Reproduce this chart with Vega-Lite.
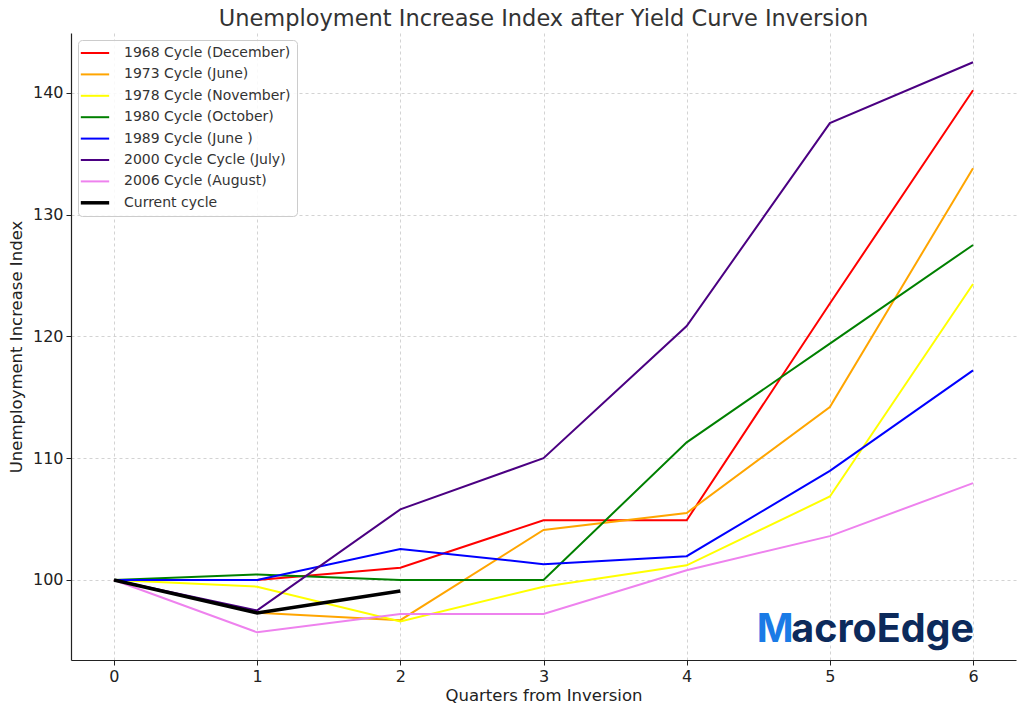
{
  "$schema": "https://vega.github.io/schema/vega-lite/v6.json",
  "width": 945,
  "height": 627,
  "autosize": {"type": "none"},
  "padding": {"left": 71, "top": 33, "right": 13, "bottom": 50},
  "background": "white",
  "title": {"text": "Unemployment Increase Index after Yield Curve Inversion", "font": "DejaVu Sans", "fontSize": 22.5, "fontWeight": "normal", "color": "#333333", "offset": 3, "anchor": "middle"},
  "config": {
    "view": {"stroke": null},
    "font": "DejaVu Sans",
    "axis": {"labelFont": "DejaVu Sans", "titleFont": "DejaVu Sans", "labelFontSize": 16, "titleFontSize": 16.5, "titleFontWeight": "normal", "labelColor": "#222222", "titleColor": "#222222", "domainColor": "#222222", "tickColor": "#222222", "tickSize": 5, "gridColor": "#c8c8c8", "gridDash": [3, 3], "gridWidth": 0.8, "domainWidth": 1.2}
  },
  "datasets": {
    "cycles": [
      {"series": "1968 Cycle (December)", "q": 0, "v": 100},
      {"series": "1968 Cycle (December)", "q": 1, "v": 100},
      {"series": "1968 Cycle (December)", "q": 2, "v": 101.0},
      {"series": "1968 Cycle (December)", "q": 3, "v": 104.9},
      {"series": "1968 Cycle (December)", "q": 4, "v": 104.9},
      {"series": "1968 Cycle (December)", "q": 5, "v": 122.7},
      {"series": "1968 Cycle (December)", "q": 6, "v": 140.2},
      {"series": "1973 Cycle (June)", "q": 0, "v": 100},
      {"series": "1973 Cycle (June)", "q": 1, "v": 97.3},
      {"series": "1973 Cycle (June)", "q": 2, "v": 96.7},
      {"series": "1973 Cycle (June)", "q": 3, "v": 104.1},
      {"series": "1973 Cycle (June)", "q": 4, "v": 105.5},
      {"series": "1973 Cycle (June)", "q": 5, "v": 114.2},
      {"series": "1973 Cycle (June)", "q": 6, "v": 133.8},
      {"series": "1978 Cycle (November)", "q": 0, "v": 100},
      {"series": "1978 Cycle (November)", "q": 1, "v": 99.45},
      {"series": "1978 Cycle (November)", "q": 2, "v": 96.6},
      {"series": "1978 Cycle (November)", "q": 3, "v": 99.45},
      {"series": "1978 Cycle (November)", "q": 4, "v": 101.2},
      {"series": "1978 Cycle (November)", "q": 5, "v": 106.85},
      {"series": "1978 Cycle (November)", "q": 6, "v": 124.3},
      {"series": "1980 Cycle (October)", "q": 0, "v": 100},
      {"series": "1980 Cycle (October)", "q": 1, "v": 100.45},
      {"series": "1980 Cycle (October)", "q": 2, "v": 100},
      {"series": "1980 Cycle (October)", "q": 3, "v": 100},
      {"series": "1980 Cycle (October)", "q": 4, "v": 111.3},
      {"series": "1980 Cycle (October)", "q": 5, "v": 119.4},
      {"series": "1980 Cycle (October)", "q": 6, "v": 127.5},
      {"series": "1989 Cycle (June )", "q": 0, "v": 100},
      {"series": "1989 Cycle (June )", "q": 1, "v": 100},
      {"series": "1989 Cycle (June )", "q": 2, "v": 102.55},
      {"series": "1989 Cycle (June )", "q": 3, "v": 101.3},
      {"series": "1989 Cycle (June )", "q": 4, "v": 101.95},
      {"series": "1989 Cycle (June )", "q": 5, "v": 108.95},
      {"series": "1989 Cycle (June )", "q": 6, "v": 117.2},
      {"series": "2000 Cycle Cycle (July)", "q": 0, "v": 100},
      {"series": "2000 Cycle Cycle (July)", "q": 1, "v": 97.5},
      {"series": "2000 Cycle Cycle (July)", "q": 2, "v": 105.8},
      {"series": "2000 Cycle Cycle (July)", "q": 3, "v": 110.0},
      {"series": "2000 Cycle Cycle (July)", "q": 4, "v": 120.85},
      {"series": "2000 Cycle Cycle (July)", "q": 5, "v": 137.5},
      {"series": "2000 Cycle Cycle (July)", "q": 6, "v": 142.5},
      {"series": "2006 Cycle (August)", "q": 0, "v": 100},
      {"series": "2006 Cycle (August)", "q": 1, "v": 95.7},
      {"series": "2006 Cycle (August)", "q": 2, "v": 97.2},
      {"series": "2006 Cycle (August)", "q": 3, "v": 97.2},
      {"series": "2006 Cycle (August)", "q": 4, "v": 100.8},
      {"series": "2006 Cycle (August)", "q": 5, "v": 103.6},
      {"series": "2006 Cycle (August)", "q": 6, "v": 107.95},
      {"series": "Current cycle", "q": 0, "v": 100},
      {"series": "Current cycle", "q": 1, "v": 97.3},
      {"series": "Current cycle", "q": 2, "v": 99.1}
    ]
  },
  "layer": [
    {
      "data": {"name": "cycles"},
      "mark": {"type": "line", "strokeCap": "butt", "strokeJoin": "miter"},
      "encoding": {
        "x": {"field": "q", "type": "quantitative", "title": "Quarters from Inversion", "scale": {"domain": [-0.3, 6.3], "nice": false, "zero": false}, "axis": {"values": [0, 1, 2, 3, 4, 5, 6], "format": "d", "labelPadding": 3, "titlePadding": 3}},
        "y": {"field": "v", "type": "quantitative", "title": "Unemployment Increase Index", "scale": {"domain": [93.43, 144.9], "nice": false, "zero": false}, "axis": {"values": [100, 110, 120, 130, 140], "labelPadding": 3, "titlePadding": 8}},
        "color": {"field": "series", "type": "nominal", "title": null,
          "scale": {"domain": ["1968 Cycle (December)", "1973 Cycle (June)", "1978 Cycle (November)", "1980 Cycle (October)", "1989 Cycle (June )", "2000 Cycle Cycle (July)", "2006 Cycle (August)", "Current cycle"],
                    "range": ["#ff0000", "#ffa500", "#ffff00", "#008000", "#0000ff", "#4b0082", "#ee82ee", "#000000"]},
          "legend": {"orient": "none", "legendX": 7, "legendY": 7, "symbolType": "M-0.97,0H1.73", "symbolSize": 441, "symbolStrokeWidth": 2, "labelFont": "DejaVu Sans", "labelFontSize": 14, "labelLimit": 300, "labelColor": "#333333", "rowPadding": 7.4, "padding": 6, "fillColor": "rgba(255,255,255,0.85)", "strokeColor": "#cccccc", "cornerRadius": 4, "labelOffset": 26,
            "encode": {"symbols": {"update": {"strokeWidth": {"signal": "datum.value === 'Current cycle' ? 3.5 : 2"}}}}}},
        "strokeWidth": {"condition": {"test": "datum.series === 'Current cycle'", "value": 3.5}, "value": 2},
        "order": {"field": "q", "type": "quantitative"}
      }
    },
    {
      "data": {"values": [{}]},
      "mark": {"type": "text", "text": "M", "font": "Inter", "fontWeight": 700, "fontSize": 39.5, "color": "#1a7be6", "align": "left", "baseline": "alphabetic"},
      "encoding": {"x": {"datum": 4.49, "type": "quantitative"}, "y": {"datum": 94.9, "type": "quantitative"}}
    },
    {
      "data": {"values": [{}]},
      "mark": {"type": "text", "text": "acroEdge", "font": "Inter", "fontWeight": 700, "fontSize": 39.5, "color": "#0c2a5b", "align": "left", "baseline": "alphabetic"},
      "encoding": {"x": {"datum": 4.73, "type": "quantitative"}, "y": {"datum": 94.9, "type": "quantitative"}}
    }
  ]
}
